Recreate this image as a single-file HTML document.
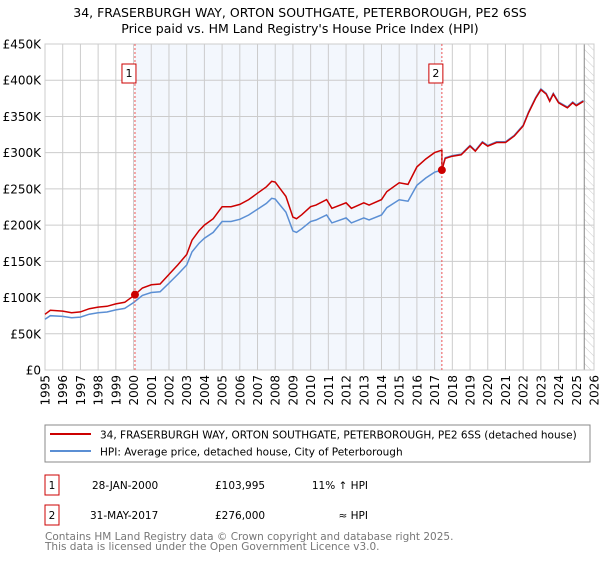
<!DOCTYPE html>
<html><head><meta charset="utf-8"><style>
body{margin:0;background:#fff;font-family:"DejaVu Sans","Liberation Sans",sans-serif;}
svg text{font-family:"DejaVu Sans","Liberation Sans",sans-serif;}
</style></head><body>
<svg id="chart" width="600" height="560" viewBox="0 0 600 560" xmlns="http://www.w3.org/2000/svg">
<defs><pattern id="hatch" width="6" height="6" patternUnits="userSpaceOnUse" patternTransform="rotate(-45)"><line x1="0" y1="0" x2="0" y2="6" stroke="#ccc" stroke-width="1"/></pattern></defs>
<text x="300" y="17" text-anchor="middle" font-size="12.5">34, FRASERBURGH WAY, ORTON SOUTHGATE, PETERBOROUGH, PE2 6SS</text>
<text x="300" y="33" text-anchor="middle" font-size="12.5">Price paid vs. HM Land Registry's House Price Index (HPI)</text>
<g id="plot"></g>
<g>
<rect x="45" y="425" width="545" height="37" fill="#fff" stroke="#888"/>
<line x1="50" y1="434" x2="91" y2="434" stroke="#cc0000" stroke-width="2"/>
<text x="100" y="438.5" font-size="10.5">34, FRASERBURGH WAY, ORTON SOUTHGATE, PETERBOROUGH, PE2 6SS (detached house)</text>
<line x1="50" y1="451" x2="91" y2="451" stroke="#5b8fd4" stroke-width="2"/>
<text x="100" y="455.5" font-size="10.5">HPI: Average price, detached house, City of Peterborough</text>
</g>
<g font-size="10.5">
<rect x="45" y="475" width="14" height="20" fill="#fff" stroke="#cc0000"/><text x="52" y="489" text-anchor="middle">1</text>
<text x="92" y="489">28-JAN-2000</text><text x="215" y="489">£103,995</text><text x="368" y="489" text-anchor="end">11% ↑ HPI</text>
<rect x="45" y="505" width="14" height="20" fill="#fff" stroke="#cc0000"/><text x="52" y="519" text-anchor="middle">2</text>
<text x="90" y="519">31-MAY-2017</text><text x="215" y="519">£276,000</text><text x="368" y="519" text-anchor="end">≈ HPI</text>
</g>
<text x="45" y="540" font-size="10.5" fill="#777">Contains HM Land Registry data © Crown copyright and database right 2025.</text>
<text x="45" y="550" font-size="10.5" fill="#777">This data is licensed under the Open Government Licence v3.0.</text>
</svg>
<script>
const hpiYears=[1995.0,1995.3,1996,1996.5,1997,1997.5,1998,1998.5,1999,1999.5,2000,2000.5,2001,2001.5,2002,2002.5,2003,2003.3,2003.7,2004,2004.5,2005,2005.5,2006,2006.5,2007,2007.5,2007.8,2008,2008.3,2008.6,2009,2009.2,2009.5,2010,2010.3,2010.9,2011.2,2012,2012.3,2013,2013.3,2014,2014.3,2015,2015.5,2016,2016.5,2017,2017.4,2017.6,2018,2018.5,2019,2019.3,2019.7,2020,2020.5,2021,2021.5,2022,2022.3,2022.7,2023,2023.3,2023.5,2023.7,2024,2024.5,2024.8,2025,2025.4];
const hpiValues=[70,75,74,72,73,77,79,80,83,85,93,103,107,108,120,132,145,163,175,182,190,205,205,208,214,222,230,237,236,227,218,192,190,195,205,207,214,203,210,203,210,207,214,224,235,233,255,265,273,276,293,296,298,310,303,315,310,315,315,324,338,356,376,388,382,372,382,370,363,370,366,372];
const saleDates=[2000.08,2017.41];
const salePrices=[103995,276000];
const saleLabels=["1","2"];
const yTicks=[0,50,100,150,200,250,300,350,400,450];
const yTickLabels=["£0","£50K","£100K","£150K","£200K","£250K","£300K","£350K","£400K","£450K"];
const xTicks=[1995,1996,1997,1998,1999,2000,2001,2002,2003,2004,2005,2006,2007,2008,2009,2010,2011,2012,2013,2014,2015,2016,2017,2018,2019,2020,2021,2022,2023,2024,2025,2026];
const dataEnd=2025.45;
const L=45,R=594,T=44,B=370,X0=1995,X1=2026,YMAX=450;
const ns="http://www.w3.org/2000/svg";
const xs=v=>L+(v-X0)/(X1-X0)*(R-L);
const ys=v=>B-v/YMAX*(B-T);
const g=document.getElementById('plot');
function mk(t,a){const e=document.createElementNS(ns,t);for(const k in a)e.setAttribute(k,a[k]);g.appendChild(e);return e;}
function hpiAt(t){for(let i=1;i<hpiYears.length;i++){if(t<=hpiYears[i]){const f=(t-hpiYears[i-1])/(hpiYears[i]-hpiYears[i-1]);return hpiValues[i-1]+f*(hpiValues[i]-hpiValues[i-1]);}}return hpiValues[hpiValues.length-1];}
let e=mk('rect',{x:xs(saleDates[0]),y:T,width:xs(saleDates[1])-xs(saleDates[0]),height:B-T,fill:'#eef3fc',opacity:0.7});


e=mk('rect',{x:xs(dataEnd),y:T,width:R-xs(dataEnd),height:B-T,fill:'url(#hatch)'});


yTicks.forEach((v,i)=>{
 let l=mk('line',{x1:L,x2:R,y1:ys(v),y2:ys(v),stroke:'#ccc','stroke-width':1});
 
 
 let t=mk('text',{x:L-4,y:ys(v)+4.5,'text-anchor':'end','font-size':12});
 t.textContent=yTickLabels[i];
 
 
});
xTicks.forEach(v=>{
 let l=mk('line',{x1:xs(v),x2:xs(v),y1:T,y2:B,stroke:'#ccc','stroke-width':1});
 
 
 let t=mk('text',{x:0,y:0,'text-anchor':'end','font-size':12,transform:`translate(${xs(v)+4.5},${B+5}) rotate(-90)`});
 t.textContent=v;
 
 
});
e=mk('line',{x1:xs(dataEnd),x2:xs(dataEnd),y1:T,y2:B,stroke:'#888','stroke-width':1});


e=mk('rect',{x:L,y:T,width:R-L,height:B-T,fill:'none',stroke:'#ccc'});


let d=hpiYears.map((t,i)=>(i?'L':'M')+xs(t).toFixed(1)+','+ys(hpiValues[i]).toFixed(1)).join('');
e=mk('path',{d:d,fill:'none',stroke:'#5b8fd4','stroke-width':1.5});


let pts=[];
hpiYears.forEach((t,i)=>{
 let k=0;for(let j=0;j<saleDates.length;j++)if(t>=saleDates[j])k=j;
 const r=salePrices[k]/1000/hpiAt(saleDates[k]);
 if(i>0&&hpiYears[i-1]<saleDates[1]&&t>=saleDates[1]){pts.push([saleDates[1],hpiAt(saleDates[1])*salePrices[0]/1000/hpiAt(saleDates[0])]);pts.push([saleDates[1],salePrices[1]/1000]);}
 pts.push([t,hpiValues[i]*r]);
});
d=pts.map((p,i)=>(i?'L':'M')+xs(p[0]).toFixed(1)+','+ys(p[1]).toFixed(1)).join('');
e=mk('path',{d:d,fill:'none',stroke:'#cc0000','stroke-width':1.5});


saleDates.forEach((t,i)=>{
 let l=mk('line',{x1:xs(t),x2:xs(t),y1:T,y2:B,stroke:'#ee5555','stroke-width':1,'stroke-dasharray':'2,2'});
 
 
 let c=mk('circle',{cx:xs(t),cy:ys(salePrices[i]/1000),r:4,fill:'#cc0000'});
 
 
 let b=mk('rect',{x:xs(t)-13,y:64,width:14,height:19,fill:'#fff',stroke:'#cc0000'});
 
 
 let tx=mk('text',{x:xs(t)-6,y:77,'text-anchor':'middle','font-size':11});
 tx.textContent=saleLabels[i];
 
 
});
</script>
</body></html>
